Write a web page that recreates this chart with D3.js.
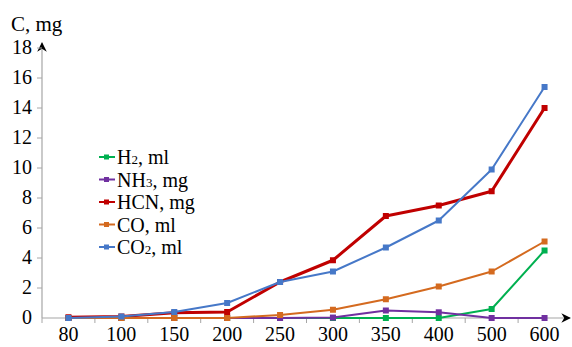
<!DOCTYPE html>
<html>
<head>
<meta charset="utf-8">
<script src="https://cdn.jsdelivr.net/npm/d3@7"></script>
</head>
<body style="margin:0; background:#fff">
<div id="chart"></div>
<script>
// temperatures on the x axis
const categories = ['80', '100', '150', '200', '250', '300', '350', '400', '500', '600'];
const yTicks = [0, 2, 4, 6, 8, 10, 12, 14, 16, 18];

const h2 = [0, 0, 0, 0, 0, 0, 0, 0, 0.6, 4.5];
const nh3 = [0, 0, 0, 0, 0, 0.03, 0.5, 0.38, 0, 0];
const hcn = [0.05, 0.1, 0.35, 0.4, 2.4, 3.85, 6.8, 7.5, 8.45, 14.0];
const co = [0, 0, 0, 0, 0.2, 0.55, 1.25, 2.1, 3.1, 5.1];
const co2 = [0, 0.1, 0.4, 1.0, 2.4, 3.1, 4.7, 6.5, 9.9, 15.4];

const seriesNames = [['H', '2', ', ml'], ['NH', '3', ', mg'], ['HCN', '', ', mg'], ['CO', '', ', ml'], ['CO', '2', ', ml']];
const seriesColors = ['#00b050', '#7030a0', '#c00000', '#d46a1f', '#4678c8'];
const seriesWidths = [2, 2, 3, 2, 2];

const series = [h2, nh3, hcn, co, co2].map((values, i) => ({
  name: seriesNames[i], color: seriesColors[i], width: seriesWidths[i], values
}));

const width = 572;
const height = 347;
const x0 = 42, x1 = 571, y0 = 318, y1 = 48;

const svg = d3.select('#chart').append('svg').attr('width', width).attr('height', height)
  .attr('font-family', 'Liberation Serif');

const x = d3.scaleBand().domain(categories).range([x0, x1]);
const y = d3.scaleLinear().domain([0, 18]).range([y0, y1]);

// arrow head
svg.append('defs').append('marker')
  .attr('id', 'arrow').attr('viewBox', '0 0 10 10').attr('refX', 9).attr('refY', 5)
  .attr('markerWidth', 8).attr('markerHeight', 8).attr('orient', 'auto-start-reverse')
  .append('path').attr('d', 'M0,0 L10,5 L0,10 L3,5 Z').attr('fill', '#000');

// y axis
const yAxis = svg.append('g').attr('transform', `translate(${x0},0)`);
yAxis.append('line').attr('x1', 0).attr('x2', 0).attr('y1', y0).attr('y2', y1 - 5)
  .attr('stroke', '#a6a6a6').attr('stroke-width', 1.2).attr('marker-end', 'url(#arrow)');
yAxis.selectAll('.tick').data(yTicks.filter(d => d > 0)).enter().append('line')
  .attr('x1', -5).attr('x2', 0).attr('y1', d => y(d)).attr('y2', d => y(d))
  .attr('stroke', '#a6a6a6');
yAxis.selectAll('text').data(yTicks).enter().append('text')
  .attr('x', -10).attr('y', d => y(d) + 6).attr('text-anchor', 'end')
  .attr('font-size', 20).text(d => d);

// x axis
const xAxis = svg.append('g');
xAxis.append('line').attr('x1', x0).attr('x2', x1 - 1).attr('y1', y0).attr('y2', y0)
  .attr('stroke', '#a6a6a6').attr('stroke-width', 1.2).attr('marker-end', 'url(#arrow)');
xAxis.selectAll('.tick').data(categories).enter().append('line')
  .attr('x1', d => x(d)).attr('x2', d => x(d)).attr('y1', y0).attr('y2', y0 + 5)
  .attr('stroke', '#a6a6a6');
xAxis.selectAll('text').data(categories).enter().append('text')
  .attr('x', d => x(d) + x.bandwidth() / 2).attr('y', 341).attr('text-anchor', 'middle')
  .attr('font-size', 20).text(d => d);

svg.append('text').attr('x', 11).attr('y', 31).attr('font-size', 21).text('C, mg');

// lines
const line = d3.line().x((d, i) => x(categories[i]) + x.bandwidth() / 2).y(d => y(d));
series.forEach(s => {
  const g = svg.append('g');
  g.append('path').datum(s.values).attr('d', line).attr('fill', 'none')
    .attr('stroke', s.color).attr('stroke-width', s.width).attr('stroke-linejoin', 'round');
  g.selectAll('rect').data(s.values).enter().append('rect')
    .attr('x', (d, i) => x(categories[i]) + x.bandwidth() / 2 - 3)
    .attr('y', d => y(d) - 3).attr('width', 6).attr('height', 6).attr('fill', s.color);
});

// legend
const legend = svg.append('g').attr('transform', 'translate(99,157)');
series.forEach((s, i) => {
  const row = legend.append('g').attr('transform', `translate(0,${i * 22.5})`);
  row.append('line').attr('x1', 0).attr('x2', 16).attr('y1', 0).attr('y2', 0)
    .attr('stroke', s.color).attr('stroke-width', 2);
  row.append('rect').attr('x', 5).attr('y', -2.5).attr('width', 5).attr('height', 5).attr('fill', s.color);
  const t = row.append('text').attr('x', 18).attr('y', 7).attr('font-size', 20);
  t.append('tspan').text(s.name[0]);
  if (s.name[1]) t.append('tspan').attr('font-size', 13).text(s.name[1]);
  t.append('tspan').text(s.name[2]);
});
</script>
</body>
</html>
